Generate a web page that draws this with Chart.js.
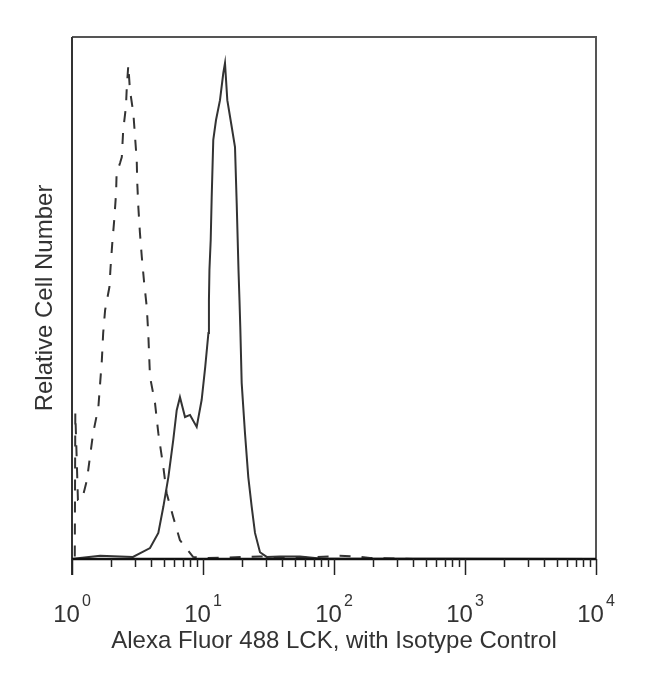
<!DOCTYPE html>
<html>
<head>
<meta charset="utf-8">
<script src="https://cdn.jsdelivr.net/npm/chart.js@4"></script>
<style>
  body { margin: 0; background: #fff; }
  #wrap { width: 650px; height: 678px; }
</style>
</head>
<body>
<div id="wrap"><canvas id="histo"></canvas></div>
<script>
// isotype control (dashed) - fluorescence value / relative count
const isoX = [1.05, 1.06, 1.11, 1.19, 1.30, 1.37, 1.45, 1.59, 1.64, 1.69, 1.73, 1.79, 1.93, 1.97, 2.03, 2.10, 2.17, 2.19, 2.33, 2.40, 2.46, 2.58, 2.62, 2.69, 2.77, 2.94, 3.03, 3.12, 3.15, 3.21, 3.30, 3.41, 3.54, 3.72, 3.82, 3.94, 4.30, 4.56, 4.98, 5.28, 5.93, 6.67, 8.39, 10.4, 16, 27, 55, 110, 144, 188, 400, 1000, 10000];
const isoY = [0.5, 28.0, 11.3, 11.3, 15.1, 19.5, 24.1, 29.1, 33.7, 38.1, 43.3, 47.7, 52.1, 55.9, 60.5, 64.9, 70.1, 73.9, 75.9, 77.0, 82.2, 86.6, 90.4, 94.6, 89.8, 85.4, 80.8, 76.4, 72.0, 67.4, 62.5, 57.9, 53.4, 48.3, 43.3, 34.9, 29.9, 24.1, 17.6, 12.6, 8.0, 3.6, 0.4, 0.2, 0.3, 0.5, 0.2, 0.6, 0.5, 0.2, 0, 0, 0];

// LCK stained (solid)
const lckX = [1.0, 1.15, 1.64, 2.92, 3.94, 4.56, 4.98, 5.44, 5.93, 6.30, 6.67, 7.29, 7.96, 8.95, 9.77, 10.4, 11.0, 11.1, 11.2, 11.45, 11.65, 11.98, 12.57, 13.48, 14.29, 14.72, 15.33, 16.56, 17.55, 18.08, 18.66, 18.99, 19.26, 19.74, 20.92, 22.17, 23.54, 24.94, 27.23, 30.64, 38.6, 55, 78, 10000];
const lckY = [0, 0.2, 0.6, 0.4, 2.1, 5.0, 10.0, 15.7, 22.8, 28.5, 31.0, 27.2, 27.6, 25.3, 30.5, 36.8, 43.3, 49.6, 55.4, 61.1, 69.3, 80.3, 84.1, 87.9, 93.1, 95.0, 87.9, 82.8, 78.9, 68.2, 55.4, 49.6, 44.4, 33.7, 24.1, 15.7, 10.0, 5.0, 1.3, 0.4, 0.5, 0.5, 0.1, 0];

const decades = [0, 1, 2, 3, 4];
const xTitle = 'Alexa Fluor 488 LCK, with Isotype Control';
const yTitle = 'Relative Cell Number';

const FONT = '"Liberation Sans", Arial, sans-serif';

// frame, log ticks, 10^n labels and axis titles
const axesPlugin = {
  id: 'axes',
  afterDatasetsDraw(chart) {
    const {ctx, chartArea: a, scales: {x}} = chart;
    ctx.save();

    ctx.lineWidth = 2;
    ctx.strokeStyle = '#555';
    ctx.beginPath();
    ctx.moveTo(a.left, a.top);
    ctx.lineTo(a.right, a.top);
    ctx.lineTo(a.right, a.bottom);
    ctx.stroke();

    ctx.strokeStyle = '#333';
    ctx.beginPath();
    ctx.moveTo(a.left, a.top);
    ctx.lineTo(a.left, a.bottom + 16);
    ctx.stroke();

    ctx.lineWidth = 2.5;
    ctx.strokeStyle = '#111';
    ctx.beginPath();
    ctx.moveTo(a.left, a.bottom);
    ctx.lineTo(a.right, a.bottom);
    ctx.stroke();

    ctx.lineWidth = 1.5;
    ctx.strokeStyle = '#222';
    decades.forEach((d, i) => {
      for (let m = 1; m <= 9; m++) {
        if (i === decades.length - 1 && m > 1) break;
        const px = Math.round(x.getPixelForValue(m * Math.pow(10, d))) + 0.5;
        const len = m === 1 ? 16 : 8;
        ctx.beginPath();
        ctx.moveTo(px, a.bottom);
        ctx.lineTo(px, a.bottom + len);
        ctx.stroke();
      }
    });

    ctx.fillStyle = '#333';
    ctx.textBaseline = 'alphabetic';
    ctx.textAlign = 'left';
    decades.forEach(d => {
      const px = x.getPixelForValue(Math.pow(10, d));
      ctx.font = '24px ' + FONT;
      const w1 = ctx.measureText('10').width;
      ctx.font = '16px ' + FONT;
      const w2 = ctx.measureText(String(d)).width;
      const start = px - (w1 + w2 + 2) / 2;
      ctx.font = '24px ' + FONT;
      ctx.fillText('10', start, 622);
      ctx.font = '16px ' + FONT;
      ctx.fillText(String(d), start + w1 + 2, 606);
    });

    ctx.font = '24px ' + FONT;
    ctx.textAlign = 'center';
    ctx.fillText(xTitle, (a.left + a.right) / 2, 648);

    ctx.translate(45, (a.top + a.bottom) / 2);
    ctx.rotate(-Math.PI / 2);
    ctx.textBaseline = 'middle';
    ctx.fillText(yTitle, 0, 0);
    ctx.restore();
  }
};

new Chart(document.getElementById('histo'), {
  type: 'line',
  data: {
    datasets: [{
      label: 'Isotype Control',
      data: isoX.map((v, i) => ({x: v, y: isoY[i]})),
      borderColor: '#333',
      borderWidth: 2,
      borderDash: [11, 11],
      pointRadius: 0,
      tension: 0
    }, {
      label: 'LCK',
      data: lckX.map((v, i) => ({x: v, y: lckY[i]})),
      borderColor: '#333',
      borderWidth: 2,
      pointRadius: 0,
      tension: 0
    }]
  },
  options: {
    responsive: true,
    maintainAspectRatio: false,
    animation: false,
    layout: {padding: {left: 72, right: 54, top: 37, bottom: 119}},
    plugins: {
      legend: {display: false},
      tooltip: {enabled: false}
    },
    scales: {
      x: {type: 'logarithmic', min: 1, max: 10000, display: false},
      y: {min: 0, max: 100, display: false}
    }
  },
  plugins: [axesPlugin]
});
</script>
</body>
</html>
